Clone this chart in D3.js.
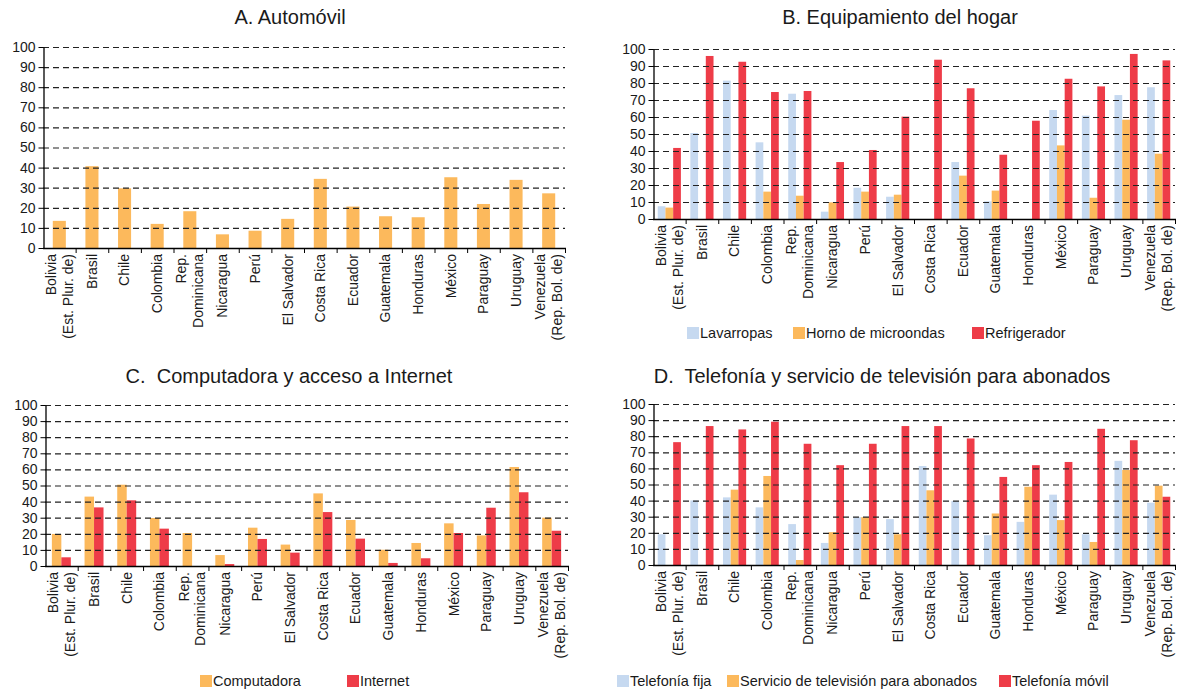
<!DOCTYPE html>
<html><head><meta charset="utf-8">
<script src="https://cdn.jsdelivr.net/npm/d3@7"></script>
<style>
body{margin:0;background:#fff;}
text{font-family:"Liberation Sans",Arial,sans-serif;fill:#1a1a1a;}
</style></head>
<body>
<svg id="chart" width="1177" height="691"></svg>
<script>
const categories = [
  ["Bolivia","(Est. Plur. de)"],["Brasil"],["Chile"],["Colombia"],["Rep.","Dominicana"],
  ["Nicaragua"],["Perú"],["El Salvador"],["Costa Rica"],["Ecuador"],["Guatemala"],
  ["Honduras"],["México"],["Paraguay"],["Uruguay"],["Venezuela","(Rep. Bol. de)"]
];
const yTicks = [0,10,20,30,40,50,60,70,80,90,100];

// A. Automóvil
const automovil = [13.5,40.7,29.7,12.0,18.3,6.8,8.6,14.5,34.4,20.6,15.8,15.3,35.2,21.9,33.9,27.2];
// B. Equipamiento del hogar
const lavarropas = [7.5,50.6,81.4,45.1,73.7,4.3,18.4,13.1,null,33.5,10.4,null,64.1,60.8,72.9,77.5];
const microondas = [6.7,null,null,16.1,13.7,9.8,16.1,14.3,null,25.5,16.7,null,43.3,12.5,58.4,38.4];
const refrigerador = [41.8,95.9,92.5,74.7,75.3,33.5,40.6,60.2,93.7,76.9,37.8,57.8,82.5,78.0,97.1,93.3];
// C. Computadora y acceso a Internet
const computadora = [19.9,43.1,50.5,29.8,20.5,6.8,23.8,13.3,45.1,28.6,10.1,14.3,26.5,19.0,61.5,30.0];
const internet = [5.4,36.4,40.8,23.2,null,1.2,16.8,8.3,33.5,17.0,1.9,4.8,20.5,36.2,45.8,21.9];
// D. Telefonía y servicio de televisión para abonados
const telFija = [19.1,40.1,42.0,35.8,25.4,13.7,29.7,28.5,61.5,39.7,18.5,26.8,43.7,19.1,64.7,38.7];
const tvAbonados = [null,null,46.8,55.3,3.1,20.4,29.7,19.1,46.4,null,32.0,48.6,27.9,14.3,59.0,49.3];
const telMovil = [76.3,86.3,84.2,89.0,75.3,62.0,75.3,86.3,86.3,78.6,54.7,62.0,64.0,84.6,77.5,42.4];

const BLUE="#c6d9f0", ORANGE="#fcb95c", RED="#ee3c48";

const svg = d3.select("#chart");

function panel(cfg){
  const g = svg.append("g");
  const x = d3.scaleBand().domain(d3.range(categories.length)).range([cfg.x0,cfg.x1]).padding(0);
  const y = d3.scaleLinear().domain([0,100]).range([cfg.yBot,cfg.yTop]);
  const inner = d3.scaleBand().domain(d3.range(cfg.series.length))
     .range([0, x.bandwidth()*cfg.groupFrac]).padding(0);
  const off = (x.bandwidth() - x.bandwidth()*cfg.groupFrac)/2;

  // title
  g.append("text").attr("x",cfg.titleX).attr("y",cfg.titleY).attr("text-anchor","middle")
    .style("font-size","20px").style("white-space","pre").text(cfg.title);

  // bars
  cfg.series.forEach((s,si)=>{
    const pts = s.values.map((v,i)=>({v,i})).filter(d=>d.v!==null && d.v>0);
    g.append("g").selectAll("rect").data(pts).join("rect")
      .attr("x",d=>x(d.i)+off+inner(si))
      .attr("width",inner.bandwidth())
      .attr("y",d=>y(d.v))
      .attr("height",d=>cfg.yBot-y(d.v))
      .attr("fill",s.color);
  });

  // gridlines
  g.append("g").selectAll("line").data(yTicks.filter(t=>t>0)).join("line")
    .attr("x1",cfg.x0).attr("x2",cfg.x1)
    .attr("y1",d=>y(d)+0.5).attr("y2",d=>y(d)+0.5)
    .attr("stroke","#222").attr("stroke-width",1.2).attr("stroke-dasharray","6,4");

  // y axis
  const ya = g.append("g").attr("transform",`translate(${cfg.x0+0.5},0)`)
    .call(d3.axisLeft(y).tickValues(yTicks).tickSize(5).tickPadding(3).tickSizeOuter(0));
  ya.select(".domain").attr("stroke","#000").attr("stroke-width",1.3);
  ya.selectAll(".tick line").attr("stroke","#000");
  ya.selectAll(".tick text").style("font-size","14px").style("font-family","Liberation Sans, Arial, sans-serif").attr("fill","#1a1a1a");

  // x axis baseline and ticks between categories
  g.append("line").attr("x1",cfg.x0).attr("x2",cfg.x1+1).attr("y1",cfg.yBot+0.5).attr("y2",cfg.yBot+0.5)
    .attr("stroke","#000").attr("stroke-width",1.5);
  const bounds = d3.range(categories.length+1).map(i=> i<categories.length ? x(i) : cfg.x1);
  g.append("g").selectAll("line").data(bounds.slice(1)).join("line")
    .attr("x1",d=>d+0.5).attr("x2",d=>d+0.5).attr("y1",cfg.yBot).attr("y2",cfg.yBot+5)
    .attr("stroke","#000");

  // category labels
  const lab = g.append("g").selectAll("g").data(categories).join("g")
    .attr("transform",(d,i)=>`translate(${x(i)+x.bandwidth()/2},${cfg.yBot+6}) rotate(-90)`);
  lab.each(function(d){
    const n=d.length;
    d.forEach((line,li)=>{
      d3.select(this).append("text").attr("x",0)
        .attr("y",(li-(n-1)/2)*17).attr("dy","0.35em")
        .attr("text-anchor","end").style("font-size","14px").text(line);
    });
  });

  // legend
  if(cfg.legend){
    cfg.legend.forEach((l,li)=>{
      const s = cfg.series[li];
      g.append("rect").attr("x",l.x).attr("y",cfg.legendY-6).attr("width",12).attr("height",12).attr("fill",s.color);
      g.append("text").attr("x",l.x+13).attr("y",cfg.legendY).attr("dy","0.35em")
        .style("font-size","14.5px").text(s.name);
    });
  }
}

panel({title:"A. Automóvil",titleX:290,titleY:24,x0:43,x1:565,yTop:47,yBot:248,groupFrac:0.4,
  series:[{name:"Automóvil",values:automovil,color:ORANGE}]});
panel({title:"B. Equipamiento del hogar",titleX:900,titleY:24,x0:653,x1:1175,yTop:49,yBot:219,groupFrac:0.71,
  series:[{name:"Lavarropas",values:lavarropas,color:BLUE},{name:"Horno de microondas",values:microondas,color:ORANGE},{name:"Refrigerador",values:refrigerador,color:RED}],
  legendY:333,legend:[{x:687},{x:793},{x:972}]});
panel({title:"C.  Computadora y acceso a Internet",titleX:289,titleY:383,x0:45,x1:568,yTop:405,yBot:566,groupFrac:0.58,
  series:[{name:"Computadora",values:computadora,color:ORANGE},{name:"Internet",values:internet,color:RED}],
  legendY:681,legend:[{x:200},{x:347}]});
panel({title:"D.  Telefonía y servicio de televisión para abonados",titleX:882,titleY:383,x0:653,x1:1175,yTop:404,yBot:565,groupFrac:0.71,
  series:[{name:"Telefonía fija",values:telFija,color:BLUE},{name:"Servicio de televisión para abonados",values:tvAbonados,color:ORANGE},{name:"Telefonía móvil",values:telMovil,color:RED}],
  legendY:681,legend:[{x:617},{x:727},{x:999}]});
</script>
</body></html>
